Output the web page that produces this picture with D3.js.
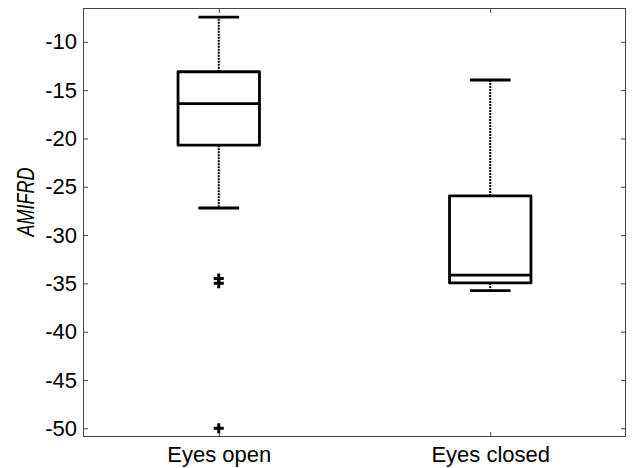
<!DOCTYPE html>
<html>
<head>
<meta charset="utf-8">
<script src="https://cdn.jsdelivr.net/npm/d3@7"></script>
<style>
  html, body { margin: 0; padding: 0; background: #fff; }
  svg { display: block; }
  text { font-family: Arial, "Liberation Sans", Helvetica, sans-serif; }
</style>
</head>
<body>
<svg id="chart" width="635" height="468"></svg>
<script>
// ---- data ----
const categories = ["Eyes open", "Eyes closed"];
const whiskerHigh = [-7.45, -13.95];
const q3Values = [-13.1, -25.95];
const medianValues = [-16.4, -34.15];
const q1Values = [-20.7, -34.95];
const whiskerLow = [-27.2, -35.75];
const outlierValues = [[-34.5, -35.0, -50.0], []];
const yTicks = [-10, -15, -20, -25, -30, -35, -40, -45, -50];
const yLabel = "AMIFRD";

// ---- layout ----
const W = 635, H = 468;
const L = 83, R = 626, T = 8, B = 437;

const svg = d3.select("#chart");
svg.append("rect").attr("width", W).attr("height", H).attr("fill", "#fff");

const x = d3.scaleLinear().domain([0.5, 2.5]).range([L, R]);
const y = d3.scaleLinear().domain([-50.9, -6.5]).range([B, T]);

const axisColor = "#444";
const fontSize = 22;

// axes
const gL = svg.append("g").attr("transform", `translate(${L},0)`)
  .call(d3.axisLeft(y).tickValues(yTicks).tickFormat(d => String(d))
    .tickSizeInner(-5).tickSizeOuter(0).tickPadding(6));
const gR = svg.append("g").attr("transform", `translate(${R},0)`)
  .call(d3.axisRight(y).tickValues(yTicks).tickFormat("")
    .tickSizeInner(-5).tickSizeOuter(0));
const gB = svg.append("g").attr("transform", `translate(0,${B})`)
  .call(d3.axisBottom(x).tickValues([1, 2]).tickFormat((d) => categories[d - 1])
    .tickSizeInner(-5).tickSizeOuter(0).tickPadding(9));
const gT = svg.append("g").attr("transform", `translate(0,${T})`)
  .call(d3.axisTop(x).tickValues([1, 2]).tickFormat("")
    .tickSizeInner(-5).tickSizeOuter(0));

[gL, gR, gB, gT].forEach(g => {
  g.select(".domain").remove();
  g.selectAll(".tick line").attr("stroke", axisColor).attr("stroke-width", 1);
  g.selectAll(".tick text").attr("fill", "#000")
    .style("font-size", fontSize + "px")
    .style("font-family", "Arial, 'Liberation Sans', Helvetica, sans-serif");
});

// frame
svg.append("rect")
  .attr("x", L + 0.5).attr("y", T + 0.5)
  .attr("width", R - L - 1).attr("height", B - T - 1)
  .attr("fill", "none").attr("stroke", axisColor).attr("stroke-width", 1);

// y label
svg.append("text")
  .attr("transform", `translate(34,${(202)}) rotate(-90)`)
  .attr("text-anchor", "middle")
  .attr("font-style", "italic")
  .attr("textLength", 69)
  .attr("lengthAdjust", "spacingAndGlyphs")
  .style("font-size", "24px")
  .text(yLabel);

// boxes
const boxHalf = 0.15, capHalf = 0.075;
const lw = 2.8;
categories.forEach((c, i) => {
  const cx = x(i + 1);
  const g = svg.append("g");
  // whiskers (dashed)
  g.append("line").attr("x1", cx).attr("x2", cx)
    .attr("y1", y(q3Values[i])).attr("y2", y(whiskerHigh[i]))
    .attr("stroke", "#000").attr("stroke-width", 2).attr("stroke-dasharray", "2,1");
  g.append("line").attr("x1", cx).attr("x2", cx)
    .attr("y1", y(q1Values[i])).attr("y2", y(whiskerLow[i]))
    .attr("stroke", "#000").attr("stroke-width", 2).attr("stroke-dasharray", "2,1");
  // caps
  [whiskerHigh[i], whiskerLow[i]].forEach(v => {
    g.append("line")
      .attr("x1", x(i + 1 - capHalf)).attr("x2", x(i + 1 + capHalf))
      .attr("y1", y(v)).attr("y2", y(v))
      .attr("stroke", "#000").attr("stroke-width", lw);
  });
  // box
  g.append("rect")
    .attr("x", x(i + 1 - boxHalf)).attr("y", y(q3Values[i]))
    .attr("width", x(i + 1 + boxHalf) - x(i + 1 - boxHalf))
    .attr("height", y(q1Values[i]) - y(q3Values[i]))
    .attr("fill", "none").attr("stroke", "#000").attr("stroke-width", lw)
    .attr("stroke-linejoin", "round");
  // median
  g.append("line")
    .attr("x1", x(i + 1 - boxHalf)).attr("x2", x(i + 1 + boxHalf))
    .attr("y1", y(medianValues[i])).attr("y2", y(medianValues[i]))
    .attr("stroke", "#000").attr("stroke-width", lw);
  // outliers
  outlierValues[i].forEach(v => {
    g.append("path")
      .attr("transform", `translate(${cx},${y(v)})`)
      .attr("d", "M-5,0H5M0,-5V5")
      .attr("stroke", "#000").attr("stroke-width", 3).attr("fill", "none");
  });
});
</script>
</body>
</html>
